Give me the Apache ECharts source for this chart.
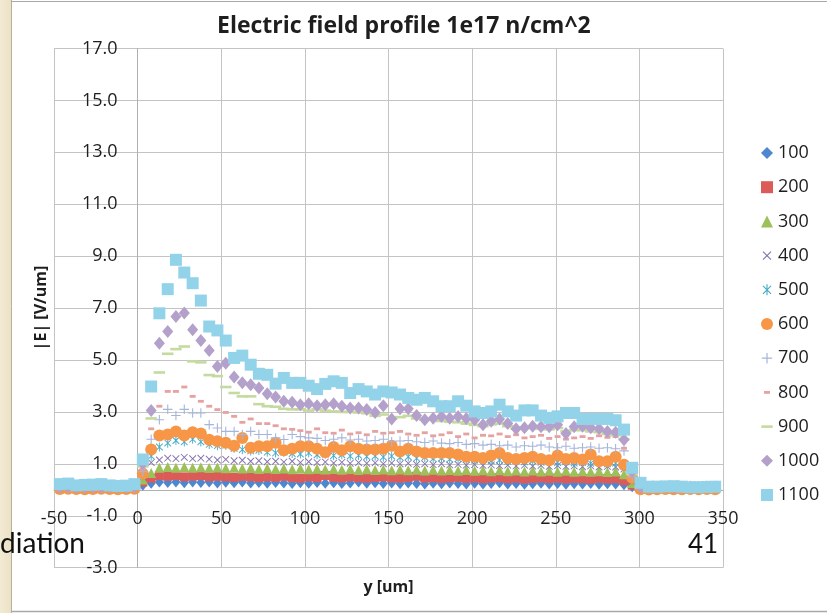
<!DOCTYPE html>
<html>
<head>
<meta charset="utf-8">
<title>Electric field profile 1e17 n/cm^2</title>
<script src="https://cdn.jsdelivr.net/npm/echarts@6.0.0/dist/echarts.min.js"></script>
<style>
  html, body { margin: 0; padding: 0; background: #ffffff; }
  #chart { width: 827px; height: 613px; }
</style>
</head>
<body>
<div id="chart"></div>
<script>
// Depth position along the sensor (um) for every sample
const yPos = [
  -46.5, -41.5, -36.6, -31.6, -26.7, -21.7, -16.7, -11.8, -6.8, -1.9,
  3.1,
  8.1, 13.0, 18.0, 22.9, 27.9, 32.9, 37.8, 42.8, 47.7, 52.7,
  57.7, 62.6, 67.6, 72.5, 77.5, 82.5, 87.4, 92.4, 97.3, 102.3,
  107.3, 112.2, 117.2, 122.1, 127.1, 132.1, 137.0, 142.0, 146.9, 151.9,
  156.9, 161.8, 166.8, 171.7, 176.7, 181.7, 186.6, 191.6, 196.5, 201.5,
  206.5, 211.4, 216.4, 221.3, 226.3, 231.3, 236.2, 241.2, 246.1, 251.1,
  256.1, 261.0, 266.0, 270.9, 275.9, 280.9, 285.8, 290.8,
  295.7,
  300.7, 305.7, 310.6, 315.6, 320.5, 325.5, 330.5, 335.4, 340.4, 345.3, 350.3
];

// Bias voltages (legend entries)
const biasNames = ['100', '200', '300', '400', '500', '600', '700', '800', '900', '1000', '1100'];

// |E| in V/um for each bias, one value per yPos sample
const e100 = [
  0.05, 0.06, 0.05, 0.04, 0.05, 0.06, 0.05, 0.04, 0.05, 0.06,
  0.18,
  0.25, 0.3, 0.28, 0.3, 0.27, 0.3, 0.28, 0.3, 0.26, 0.29,
  0.27, 0.3, 0.26, 0.28, 0.25, 0.28, 0.26, 0.24, 0.27, 0.25,
  0.28, 0.25, 0.27, 0.24, 0.26, 0.3, 0.25, 0.27, 0.24, 0.26,
  0.23, 0.26, 0.24, 0.22, 0.25, 0.23, 0.26, 0.24, 0.22, 0.25,
  0.22, 0.24, 0.27, 0.22, 0.24, 0.21, 0.23, 0.25, 0.22, 0.24,
  0.21, 0.23, 0.22, 0.24, 0.21, 0.23, 0.22, 0.2,
  0.12,
  0.04, 0.03, 0.04, 0.05, 0.03, 0.04, 0.04, 0.03, 0.05, 0.04, 0.04
];
const e200 = [
  0.06, 0.07, 0.06, 0.05, 0.07, 0.06, 0.06, 0.05, 0.06, 0.07,
  0.3,
  0.45, 0.55, 0.52, 0.55, 0.5, 0.53, 0.55, 0.5, 0.52, 0.5,
  0.48, 0.52, 0.5, 0.47, 0.5, 0.48, 0.52, 0.47, 0.45, 0.5,
  0.47, 0.55, 0.48, 0.46, 0.5, 0.47, 0.45, 0.48, 0.5, 0.46,
  0.45, 0.48, 0.52, 0.45, 0.47, 0.44, 0.46, 0.48, 0.44, 0.46,
  0.43, 0.45, 0.47, 0.43, 0.45, 0.42, 0.44, 0.46, 0.43, 0.45,
  0.42, 0.44, 0.43, 0.41, 0.44, 0.42, 0.43, 0.35,
  0.18,
  0.05, 0.04, 0.05, 0.06, 0.04, 0.05, 0.05, 0.04, 0.06, 0.05, 0.05
];
const e300 = [
  0.07, 0.08, 0.07, 0.06, 0.08, 0.07, 0.07, 0.06, 0.07, 0.08,
  0.4,
  0.65, 0.85, 0.88, 0.85, 0.88, 0.85, 0.87, 0.84, 0.86, 0.83,
  0.85, 0.82, 0.84, 0.8, 0.83, 0.8, 0.82, 0.79, 0.82, 0.79,
  0.81, 0.78, 0.8, 0.77, 0.8, 0.76, 0.79, 0.76, 0.78, 0.75,
  0.78, 0.75, 0.77, 0.74, 0.77, 0.74, 0.76, 0.73, 0.76, 0.73,
  0.75, 0.72, 0.75, 0.72, 0.74, 0.71, 0.74, 0.71, 0.73, 0.7,
  0.73, 0.7, 0.72, 0.7, 0.72, 0.69, 0.71, 0.6,
  0.26,
  0.06, 0.05, 0.06, 0.07, 0.05, 0.06, 0.06, 0.05, 0.07, 0.06, 0.06
];
const e400 = [
  0.07, 0.08, 0.08, 0.07, 0.08, 0.07, 0.08, 0.07, 0.07, 0.08,
  0.5,
  1.05, 1.15, 1.22, 1.2, 1.25, 1.2, 1.22, 1.18, 1.15, 1.17,
  1.12, 1.14, 1.1, 1.12, 1.08, 1.1, 1.07, 1.1, 1.05, 1.08,
  1.05, 1.07, 1.03, 1.06, 1.02, 1.05, 1.02, 1.04, 1.0, 1.03,
  1.0, 1.02, 0.98, 1.0, 0.97, 1.0, 0.96, 0.98, 0.95, 0.97,
  0.94, 0.96, 0.93, 0.95, 0.92, 0.95, 0.91, 0.94, 0.9, 0.93,
  0.9, 0.92, 0.89, 0.92, 0.88, 0.9, 0.88, 0.8,
  0.32,
  0.06, 0.06, 0.07, 0.07, 0.06, 0.06, 0.07, 0.06, 0.07, 0.06, 0.06
];
const e500 = [
  0.08, 0.09, 0.08, 0.08, 0.09, 0.08, 0.08, 0.07, 0.08, 0.09,
  0.55,
  1.3, 1.65, 1.8, 1.9, 1.85, 1.95, 1.85, 1.75, 1.7, 1.72,
  1.6, 1.55, 1.5, 1.52, 1.45, 1.42, 1.45, 1.4, 1.38, 1.42,
  1.35, 1.38, 1.32, 1.35, 1.3, 1.33, 1.28, 1.3, 1.26, 1.3,
  1.25, 1.27, 1.22, 1.25, 1.2, 1.22, 1.18, 1.2, 1.17, 1.15,
  1.18, 1.12, 1.15, 1.1, 1.13, 1.08, 1.12, 1.06, 1.1, 1.05,
  1.08, 1.03, 1.06, 1.02, 1.05, 1.0, 1.03, 0.9,
  0.38,
  0.07, 0.06, 0.07, 0.08, 0.06, 0.07, 0.07, 0.06, 0.08, 0.07, 0.07
];
const e600 = [
  0.03, 0.04, 0.03, 0.02, 0.03, 0.04, 0.03, 0.02, 0.03, 0.04,
  0.62,
  1.55, 2.09, 2.13, 2.25, 2.09, 2.22, 2.17, 1.93, 1.87, 1.81,
  1.7, 2.0, 1.62, 1.68, 1.68, 1.81, 1.52, 1.58, 1.68, 1.68,
  1.58, 1.45, 1.65, 1.52, 1.68, 1.58, 1.55, 1.55, 1.58, 1.7,
  1.48, 1.58, 1.48, 1.42, 1.42, 1.42, 1.42, 1.36, 1.27, 1.27,
  1.23, 1.32, 1.42, 1.23, 1.19, 1.23, 1.27, 1.19, 1.14, 1.32,
  1.19, 1.23, 1.17, 1.36, 1.1, 1.1, 1.27, 0.97,
  0.46,
  0.02, 0.01, 0.02, 0.03, 0.02, 0.02, 0.03, 0.02, 0.03, 0.02, 0.02
];
const e700 = [
  0.08, 0.09, 0.09, 0.08, 0.09, 0.08, 0.09, 0.08, 0.08, 0.09,
  0.7,
  1.95, 2.7, 3.1, 2.86, 3.1, 2.96, 2.96, 2.51, 2.38, 2.25,
  2.25, 2.13, 2.25, 2.13, 2.13, 2.0, 1.94, 2.13, 2.05, 2.0,
  1.98, 1.9, 1.95, 2.0, 1.92, 1.95, 1.88, 1.9, 1.95, 1.85,
  1.88, 1.9, 1.85, 1.82, 1.88, 1.8, 1.78, 1.82, 1.75, 1.78,
  1.72, 1.75, 1.7, 1.72, 1.65, 1.7, 1.68, 1.72, 1.65, 1.62,
  1.68, 1.6, 1.62, 1.65, 1.6, 1.62, 1.58, 1.5,
  0.5,
  0.08, 0.07, 0.08, 0.09, 0.07, 0.08, 0.08, 0.07, 0.09, 0.08, 0.08
];
const e800 = [
  0.09, 0.1, 0.09, 0.09, 0.1, 0.09, 0.1, 0.09, 0.09, 0.1,
  0.8,
  2.35, 3.22, 3.79, 3.79, 3.96, 3.6, 3.41, 3.22, 3.09, 2.98,
  2.83, 2.6, 2.73, 2.55, 2.55, 2.47, 2.35, 2.33, 2.28, 2.22,
  2.35, 2.2, 2.18, 2.3, 2.15, 2.2, 2.12, 2.25, 2.18, 2.2,
  2.25, 2.15, 2.1, 2.2, 2.08, 2.12, 2.2, 2.05, 2.15, 2.0,
  2.1, 2.08, 2.15, 2.05, 2.12, 2.0, 2.05, 2.1, 1.98, 2.05,
  1.95, 2.0, 2.05, 1.98, 2.08, 2.02, 2.05, 1.6,
  0.55,
  0.1, 0.09, 0.1, 0.11, 0.09, 0.1, 0.1, 0.09, 0.11, 0.1, 0.1
];
const e900 = [
  0.09, 0.1, 0.1, 0.09, 0.1, 0.09, 0.1, 0.1, 0.09, 0.1,
  0.9,
  2.75, 4.52, 5.24, 5.42, 5.52, 4.95, 4.91, 4.42, 4.38, 3.96,
  3.73, 3.6, 3.6, 3.3, 3.22, 3.2, 3.12, 3.1, 3.1, 3.05,
  3.1, 3.05, 3.02, 3.0, 3.0, 2.98, 2.95, 2.85, 2.9, 2.75,
  2.8, 2.85, 2.75, 2.7, 2.72, 2.65, 2.62, 2.6, 2.55, 2.5,
  2.45, 2.52, 2.55, 2.45, 2.35, 2.4, 2.38, 2.35, 2.33, 2.38,
  2.25, 2.3, 2.3, 2.25, 2.22, 2.15, 2.1, 1.95,
  0.6,
  0.1, 0.1, 0.11, 0.1, 0.1, 0.11, 0.1, 0.1, 0.11, 0.1, 0.1
];
const e1000 = [
  0.1, 0.11, 0.1, 0.1, 0.11, 0.1, 0.11, 0.1, 0.1, 0.11,
  1.0,
  3.06, 5.65, 6.1, 6.68, 6.81, 6.17, 5.75, 5.37, 4.75, 4.88,
  4.35, 4.12, 4.05, 3.92, 3.7, 3.58, 3.41, 3.37, 3.28, 3.32,
  3.24, 3.28, 3.32, 3.22, 3.15, 3.15, 3.09, 2.98, 3.24, 2.73,
  3.12, 3.12, 2.86, 2.7, 2.76, 2.82, 2.76, 2.82, 2.75, 2.7,
  2.51, 2.64, 2.73, 2.55, 2.35, 2.39, 2.45, 2.43, 2.43, 2.51,
  2.17, 2.43, 2.45, 2.39, 2.35, 2.25, 2.22, 1.93,
  0.7,
  0.11, 0.1, 0.11, 0.12, 0.1, 0.11, 0.11, 0.1, 0.12, 0.11, 0.11
];
const e1100 = [
  0.22, 0.24, 0.17, 0.19, 0.2, 0.22, 0.17, 0.15, 0.16, 0.22,
  1.17,
  3.98, 6.8, 7.73, 8.86, 8.37, 7.96, 7.29, 6.29, 6.14, 5.75,
  5.08, 5.17, 4.82, 4.47, 4.43, 4.09, 4.31, 4.12, 4.12, 4.01,
  3.88, 4.08, 4.18, 4.12, 3.73, 3.88, 3.79, 3.67, 3.79, 3.75,
  3.67, 3.54, 3.47, 3.54, 3.41, 3.22, 3.22, 3.41, 3.24, 3.02,
  2.96, 3.02, 3.28, 3.02, 2.86, 3.06, 3.06, 2.86, 2.77, 2.83,
  2.96, 2.96, 2.73, 2.73, 2.73, 2.73, 2.68, 2.32,
  0.85,
  0.27, 0.12, 0.12, 0.13, 0.14, 0.12, 0.1, 0.1, 0.11, 0.12, 0.12
];
const fieldValues = [e100, e200, e300, e400, e500, e600, e700, e800, e900, e1000, e1100];

// Axis ranges and tick spacing
const xRange = { min: -50, max: 350, step: 50 };
const yRange = { min: -3, max: 17, step: 2 };

// Plot rectangle in pixels
const plot = { left: 54, top: 48.5, width: 669, height: 519.2 };
// Both axes cross at zero: shift them from the grid edges onto the origin
const xAxisShift = -plot.height * (0 - yRange.min) / (yRange.max - yRange.min);
const yAxisShift = -plot.width * (0 - xRange.min) / (xRange.max - xRange.min);

// Marker shapes (12x12 boxes so the legend and plot scale alike)
const BOX = 'M0,0M12,12';
const SHAPE_X = 'path://' + BOX + 'M1.6,2.4L2.4,1.6L10.4,9.6L9.6,10.4Z M9.6,1.6L10.4,2.4L2.4,10.4L1.6,9.6Z';
const SHAPE_STAR = 'path://' + BOX + 'M1.6,2.4L2.4,1.6L10.4,9.6L9.6,10.4Z M9.6,1.6L10.4,2.4L2.4,10.4L1.6,9.6Z M5.45,0.5L6.55,0.5L6.55,11.5L5.45,11.5Z';
const SHAPE_PLUS = 'path://' + BOX + 'M5.4,0.8L6.6,0.8L6.6,11.2L5.4,11.2Z M0.8,5.4L11.2,5.4L11.2,6.6L0.8,6.6Z';
const SHAPE_DASH = 'path://' + BOX + 'M3,4.6L9,4.6L9,7.4L3,7.4Z';
const SHAPE_LONGDASH = 'path://' + BOX + 'M0.3,4.7L11.7,4.7L11.7,7.3L0.3,7.3Z';

const markerStyle = [
  { symbol: 'diamond',  size: [9, 11], color: '#4e86cf' },
  { symbol: 'rect',     size: 9,       color: '#db5b58' },
  { symbol: 'triangle', size: 10,      color: '#9cc05a' },
  { symbol: SHAPE_X,    size: 10,      color: '#8670ad' },
  { symbol: SHAPE_STAR, size: 10,      color: '#47abc7' },
  { symbol: 'circle',   size: 12,      color: '#f79646' },
  { symbol: SHAPE_PLUS, size: 11,      color: '#a6b5dc' },
  { symbol: SHAPE_DASH, size: 12,      color: '#e6a2a0' },
  { symbol: SHAPE_LONGDASH, size: 12,  color: '#c5da9f' },
  { symbol: 'diamond',  size: [11, 13], color: '#b3a1cc' },
  { symbol: 'rect',     size: 12,      color: '#93d3e9' }
];

const FONT = '"Open Sans", Lato, "DejaVu Sans", sans-serif';
const TEXT = '#1e1e1e';
const GRID = '#c4c4c4';

const chart = echarts.init(document.getElementById('chart'), null, { renderer: 'canvas' });

chart.setOption({
  animation: false,
  backgroundColor: '#ffffff',
  textStyle: { fontFamily: FONT },
  title: {
    text: 'Electric field profile 1e17 n/cm^2',
    left: 217,
    top: 15,
    padding: 0,
    textStyle: { fontFamily: FONT, fontSize: 23, fontWeight: 'bold', color: TEXT }
  },
  grid: {
    left: plot.left, top: plot.top, width: plot.width, height: plot.height,
    containLabel: false,
    outerBoundsMode: 'none'
  },
  legend: {
    orient: 'vertical',
    left: 761,
    top: 144,
    padding: 0,
    itemGap: 16.2,
    itemWidth: 12,
    itemHeight: 12,
    selectedMode: false,
    data: biasNames,
    textStyle: { fontFamily: FONT, fontSize: 18, lineHeight: 18, color: TEXT }
  },
  xAxis: {
    type: 'value',
    min: xRange.min, max: xRange.max, interval: xRange.step,
    offset: xAxisShift,
    name: 'y [um]',
    nameLocation: 'middle',
    nameGap: 90,
    nameTextStyle: { fontFamily: FONT, fontSize: 16, fontWeight: 'bold', color: TEXT },
    axisLine: { onZero: false, lineStyle: { color: '#b0b0b0', width: 1 } },
    axisTick: { show: false },
    axisLabel: { fontFamily: FONT, fontSize: 18, color: TEXT, margin: 20 },
    splitLine: { show: true, lineStyle: { color: GRID, width: 1 } }
  },
  yAxis: {
    type: 'value',
    min: yRange.min, max: yRange.max, interval: yRange.step,
    offset: yAxisShift,
    name: '|E| [V/um]',
    nameLocation: 'middle',
    nameRotate: 90,
    nameGap: 88,
    nameTextStyle: { fontFamily: FONT, fontSize: 16, fontWeight: 'bold', color: TEXT },
    axisLine: { onZero: false, lineStyle: { color: '#b0b0b0', width: 1 } },
    axisTick: { show: false },
    axisLabel: {
      fontFamily: FONT, fontSize: 18, color: TEXT, margin: 20,
      formatter: function (v) { return v.toFixed(1); }
    },
    splitLine: { show: true, lineStyle: { color: GRID, width: 1 } }
  },
  series: biasNames.map(function (name, i) {
    return {
      name: name,
      type: 'scatter',
      symbol: markerStyle[i].symbol,
      symbolSize: markerStyle[i].size,
      itemStyle: { color: markerStyle[i].color, opacity: 1 },
      emphasis: { disabled: true },
      data: yPos.map(function (x, j) { return [x, fieldValues[i][j]]; })
    };
  }),
  graphic: [
    // slide frame: beige side strip and thin border lines
    { type: 'rect', z: -10, silent: true, shape: { x: 0, y: 0, width: 11, height: 613 },
      style: { fill: new echarts.graphic.LinearGradient(0, 0, 1, 0, [
        { offset: 0, color: '#f2ead2' }, { offset: 1, color: '#ebe2c6' }]) } },
    { type: 'line', z: 50, silent: true, shape: { x1: 11.5, y1: 0, x2: 11.5, y2: 613 },
      style: { stroke: '#b5b0a2', lineWidth: 1 } },
    { type: 'line', z: 50, silent: true, shape: { x1: 11, y1: 1.5, x2: 827, y2: 1.5 },
      style: { stroke: '#a8a8a8', lineWidth: 1 } },
    { type: 'line', z: 50, silent: true, shape: { x1: 11, y1: 611.5, x2: 827, y2: 611.5 },
      style: { stroke: '#a8a8a8', lineWidth: 1.5 } },
    { type: 'text', z: 60, silent: true, left: 0, top: 530,
      style: { text: 'diation', font: '28px Lato, sans-serif', fill: '#111111' } },
    { type: 'text', z: 60, silent: true, left: 688, top: 532,
      style: { text: '41', font: '26px Lato, sans-serif', fill: '#111111' } }
  ]
});
</script>
</body>
</html>
